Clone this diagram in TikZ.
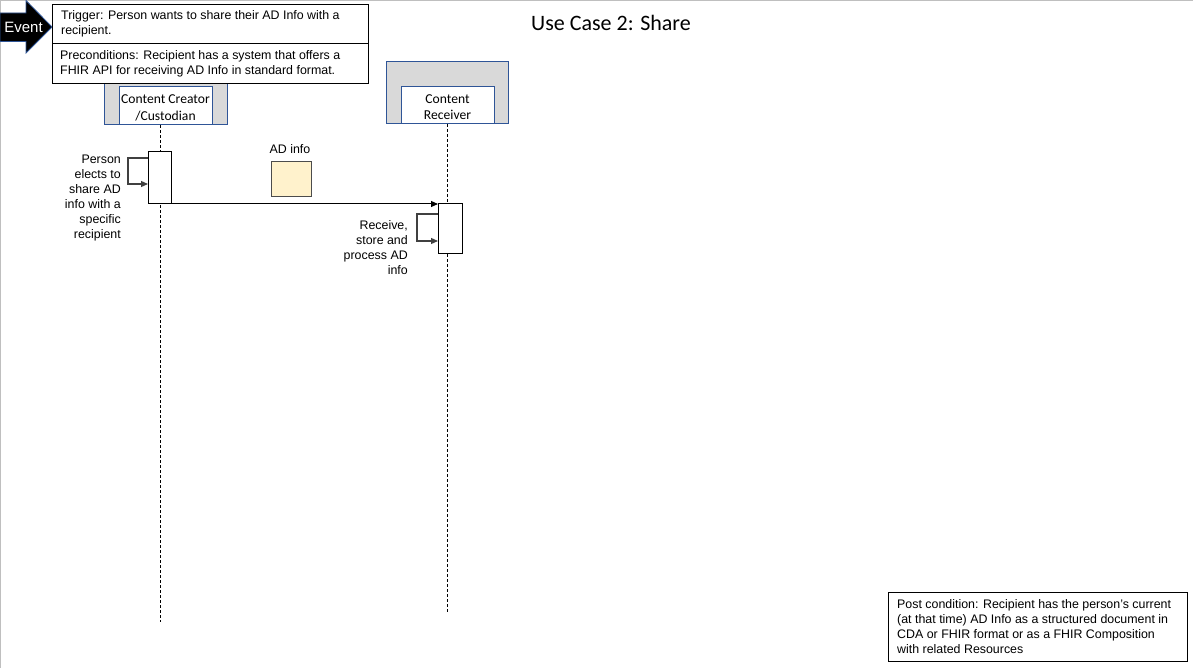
\documentclass[tikz,border=0pt]{standalone}
\usepackage{fontspec}
\setmainfont{Liberation Sans}
\newfontfamily\calibri{Carlito}
\usetikzlibrary{arrows.meta}
\definecolor{actgrey}{HTML}{D9D9D9}
\definecolor{actblue}{HTML}{2F5597}
\definecolor{adfill}{HTML}{FFF2CC}
\definecolor{loopgrey}{HTML}{404040}
\tikzset{
  txt/.style={font=\fontsize{12.4}{15}\selectfont, inner sep=0pt},
  notebox/.style={draw=black, line width=1.2pt, fill=white},
  actorouter/.style={draw=actblue, line width=1pt, fill=actgrey},
  actorinner/.style={draw=actblue, line width=1pt, fill=white},
  actortxt/.style={font=\calibri\fontsize{13.6}{16.5}\selectfont, align=center, inner sep=0pt},
  lifeline/.style={dash pattern=on 3pt off 2pt, line width=1pt},
  activation/.style={draw=black, line width=1pt, fill=white, outer sep=0pt, inner sep=0pt},
  msg/.style={line width=1pt, -{Triangle[length=7pt,width=6pt]}},
  selfloop/.style={draw=loopgrey, line width=1.2pt, -{Triangle[length=7pt,width=6pt]}},
}
\begin{document}
\begin{tikzpicture}[x=1pt,y=-1pt]
\useasboundingbox (0,0) rectangle (1193,668);
% frame (top and left only)
\draw[draw=black!25, line width=1.5pt] (0,668) -- (0,0.75) -- (1193,0.75);

% title
\node[font=\calibri\fontsize{22}{24}\selectfont, inner sep=0pt] (title) at (611,22.5) {Use Case 2: Share};

% actors
\path[actorouter] (104,63) rectangle (227,125);
\path[actorinner] (119,87) rectangle (212,125);
\node[actortxt] (creator) at (165.5,108) {Content Creator\\/Custodian};
\path[actorouter] (386,62) rectangle (508,124);
\path[actorinner] (401,87) rectangle (494,124);
\node[actortxt] (receiver) at (447.5,107) {Content\\Receiver};

% event arrow
\path[fill=black, draw=actblue, line width=0.8pt] (0,13) -- (26,13) -- (26,0.5) -- (52,27) -- (26,53) -- (26,41.5) -- (0,41.5) -- cycle;
\node[txt, text=white, font=\fontsize{15}{17}\selectfont] (event) at (23.5,27) {Event};

% trigger and preconditions
\node[notebox, minimum width=316pt, minimum height=39pt, anchor=north west, inner sep=0pt] (trigger) at (52,4) {};
\node[txt, align=left, anchor=north west] (triggertxt) at (61,10.5) {Trigger: Person wants to share their AD Info with a\\recipient.};
\node[notebox, minimum width=316pt, minimum height=40pt, anchor=north west, inner sep=0pt] (precond) at (52,43) {};
\node[txt, align=left, anchor=north west] (precondtxt) at (60,50.5) {Preconditions: Recipient has a system that offers a\\FHIR API for receiving AD Info in standard format.};

% lifelines
\coordinate (cend) at (160,622);
\coordinate (rend) at (447,612);
\draw[lifeline] (160,125) -- (cend);
\draw[lifeline] (447,124) -- (rend);

% activations
\node[activation, minimum width=23pt, minimum height=52pt] (act1) at (159.5,178) {};
\node[activation, minimum width=24pt, minimum height=50pt] (act2) at (450,229) {};

% self loops
\draw[selfloop] ([yshift=-6pt]act1.north west) -- ++(-20,0) -- ++(0,26) -- ([yshift=-32pt]act1.north west);
\draw[selfloop] ([yshift=-10pt]act2.north west) -- ++(-21,0) -- ++(0,27) -- ([yshift=-37pt]act2.north west);

% message
\draw[msg] (act1.south east) -- (act2.north west);

% AD info
\node[txt] (adlabel) at (290,149.5) {AD info};
\node[draw=black!70, line width=1pt, fill=adfill, minimum width=40pt, minimum height=35pt, inner sep=0pt] (adinfo) at (291,179.5) {};

% labels
\node[txt, align=right, anchor=north east] (lbl1) at (121,154.5) {Person\\elects to\\share AD\\info with a\\specific\\recipient};
\node[txt, align=right, anchor=north east] (lbl2) at (408,220.5) {Receive,\\store and\\process AD\\info};

% post condition
\node[notebox, minimum width=299pt, minimum height=69pt, anchor=north west, inner sep=0pt] (post) at (888,592) {};
\node[txt, align=left, anchor=north west] (posttxt) at (897,599) {Post condition: Recipient has the person’s current\\(at that time) AD Info as a structured document in\\CDA or FHIR format or as a FHIR Composition\\with related Resources};
\end{tikzpicture}
\end{document}
